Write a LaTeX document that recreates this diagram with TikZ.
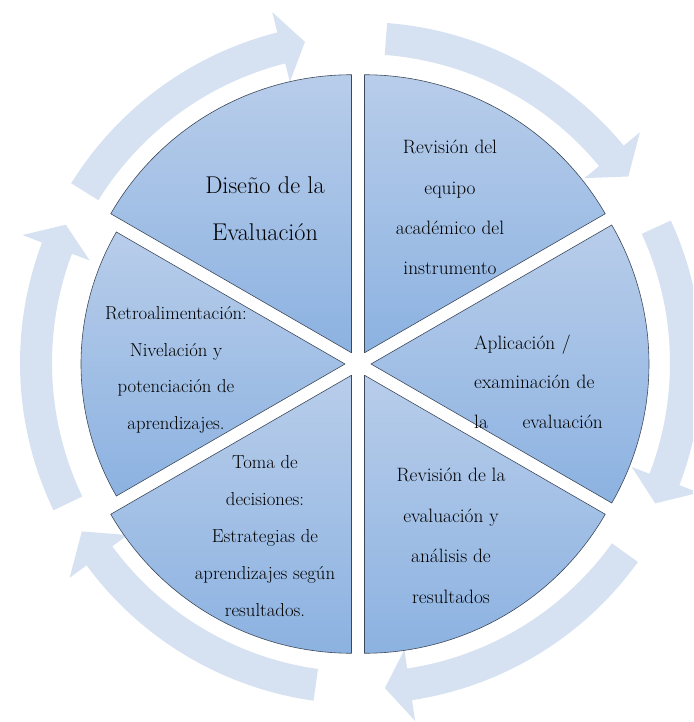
\documentclass[tikz,border=0pt]{standalone}
\usepackage{fontspec}
\definecolor{arrowfill}{RGB}{214,226,242}
\definecolor{secTop}{RGB}{184,205,234}
\definecolor{secBot}{RGB}{140,178,225}
\definecolor{secLine}{RGB}{60,72,90}
\begin{document}
\begin{tikzpicture}[x=0.03cm,y=0.03cm,
  sector/.style={top color=secTop,bottom color=secBot,draw=secLine,line width=0.5pt,line join=round},
  ringarrow/.style={fill=arrowfill,draw=none},
  sectortext/.style={inner sep=0pt,align=center,text=black}]
\useasboundingbox (-358,-358) rectangle (335,364);
\begin{scope}
\clip (-358,-358) rectangle (335,364);
% ring of curved arrows
\begin{scope}[shift={(3,1)}]
\foreach \t/\h/\p in {148.2/104.2/99.9, 85.6/39.6/34.9, 24.7/-21/-25.5, -35.7/-81.4/-85.8, -98/-143.6/-148.9, -154.4/-200.7/-205.1}{
  \fill[ringarrow] (\t:341) arc[start angle=\t,end angle=\h,radius=341]
    -- (\h:362) -- (\p:326) -- (\h:290) -- (\h:309)
    arc[start angle=\h,end angle=\t,radius=309] -- cycle;
}
\end{scope}
% exploded pie sectors
\foreach \b/\R in {120/278, 60/278, 0/278, -60/278, -120/278, 180/264}{
  \draw[sector] (\b:13) -- ++(\b-30:\R) arc[start angle=\b-30,end angle=\b+30,radius=\R] -- cycle;
}
\end{scope}
% texts
\node[sectortext,font=\fontsize{20.7}{40}\selectfont] (diseno) at (-93,155.5) {Diseño de la\\Evaluación};
\node[sectortext,font=\fontsize{16.5}{34.3}\selectfont] (revequipo) at (92,156.5) {Revisión del\\equipo\\académico del\\instrumento};
\node[sectortext,align=left,text width=109.7pt,font=\fontsize{16.5}{33.6}\selectfont] (aplicacion) at (180.5,-17.5) {Aplicación /\\examinación de\\la\hfill evaluación};
\node[sectortext,font=\fontsize{16.5}{34.6}\selectfont] (revevaluacion) at (93,-172) {Revisión de la\\evaluación y\\análisis de\\resultados};
\node[sectortext,font=\fontsize{16}{31.5}\selectfont] (decisiones) at (-93,-172) {Toma de\\decisiones:\\Estrategias de\\aprendizajes según\\resultados.};
\node[sectortext,font=\fontsize{16}{31.2}\selectfont] (retro) at (-182,-6) {Retroalimentación:\\Nivelación y\\potenciación de\\aprendizajes.};
\end{tikzpicture}
\end{document}
